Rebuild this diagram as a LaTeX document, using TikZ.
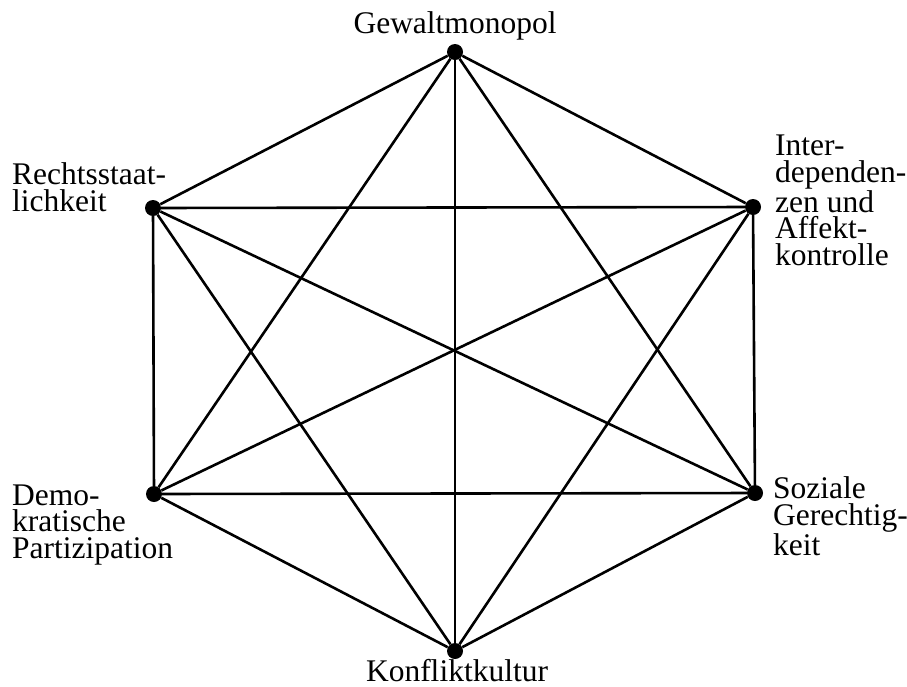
\documentclass[tikz,border=0pt]{standalone}
\usepackage{fontspec}
\setmainfont{Liberation Serif}
\begin{document}
\begin{tikzpicture}[x=1pt,y=-1pt,
  vdot/.style={circle,fill=black,inner sep=0pt,minimum size=16pt},
  edge/.style={line width=2.6pt},
  lbl/.style={inner sep=0pt,font=\fontsize{31.5}{26.5}\selectfont,align=left}]
\useasboundingbox (0,0) rectangle (907,686);
\node[vdot] (t) at (455,52) {};
\node[vdot] (ur) at (753,207) {};
\node[vdot] (lr) at (755,493) {};
\node[vdot] (b) at (455,651) {};
\node[vdot] (ll) at (154,494) {};
\node[vdot] (ul) at (153,208) {};
\foreach \a/\b in {t/ur,ur/lr,lr/b,b/ll,ll/ul,ul/t,t/lr,t/ll,ur/b,ur/ul,lr/ll,b/ul,t/b,ul/lr,ur/ll}
  \draw[edge] (\a) -- (\b);
\node[lbl,anchor=base] (lt) at (455,33) {Gewaltmonopol};
\node[lbl,anchor=base west] (lul) at (12,211) {Rechtsstaat-\\lichkeit};
\node[lbl,anchor=base west] (lur) at (775,265) {Inter-\\dependen-\\zen und\\Affekt-\\kontrolle};
\node[lbl,anchor=base west] (lll) at (12,558) {Demo-\\kratische\\Partizipation};
\node[lbl,anchor=base west] (llr) at (773,555) {Soziale\\Gerechtig-\\keit};
\node[lbl,anchor=base] (lb) at (457,681) {Konfliktkultur};
\end{tikzpicture}
\end{document}
